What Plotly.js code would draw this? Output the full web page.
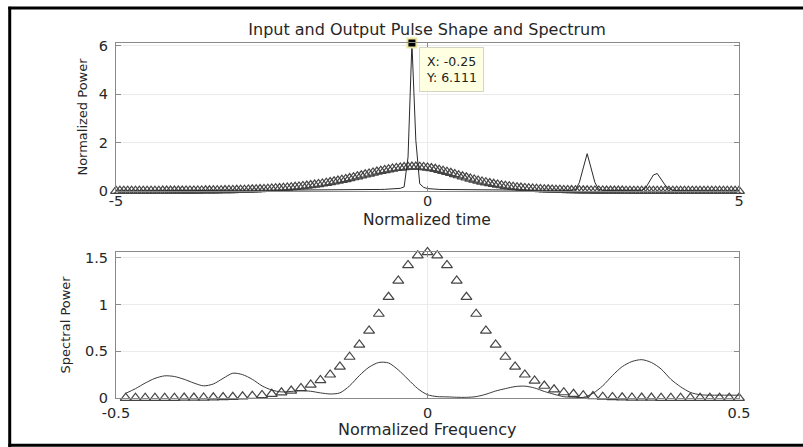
<!DOCTYPE html>
<html><head><meta charset="utf-8">
<script src="https://cdn.plot.ly/plotly-3.0.1.min.js"></script>
<style>html,body{margin:0;padding:0;background:#fff;}#chart{width:803px;height:447px;}</style>
</head><body><div id="chart"></div>
<script>
// ---- time domain ----
const timeAxis = [
-5,-4.9375,-4.875,-4.8125,-4.75,-4.6875,-4.625,-4.5625,
-4.5,-4.4375,-4.375,-4.3125,-4.25,-4.1875,-4.125,-4.0625,
-4,-3.9375,-3.875,-3.8125,-3.75,-3.6875,-3.625,-3.5625,
-3.5,-3.4375,-3.375,-3.3125,-3.25,-3.1875,-3.125,-3.0625,
-3,-2.9375,-2.875,-2.8125,-2.75,-2.6875,-2.625,-2.5625,
-2.5,-2.4375,-2.375,-2.3125,-2.25,-2.1875,-2.125,-2.0625,
-2,-1.9375,-1.875,-1.8125,-1.75,-1.6875,-1.625,-1.5625,
-1.5,-1.4375,-1.375,-1.3125,-1.25,-1.1875,-1.125,-1.0625,
-1,-0.9375,-0.875,-0.8125,-0.75,-0.6875,-0.625,-0.5625,
-0.5,-0.4375,-0.375,-0.3125,-0.25,-0.1875,-0.125,-0.0625,
0,0.0625,0.125,0.1875,0.25,0.3125,0.375,0.4375,
0.5,0.5625,0.625,0.6875,0.75,0.8125,0.875,0.9375,
1,1.0625,1.125,1.1875,1.25,1.3125,1.375,1.4375,
1.5,1.5625,1.625,1.6875,1.75,1.8125,1.875,1.9375,
2,2.0625,2.125,2.1875,2.25,2.3125,2.375,2.4375,
2.5,2.5625,2.625,2.6875,2.75,2.8125,2.875,2.9375,
3,3.0625,3.125,3.1875,3.25,3.3125,3.375,3.4375,
3.5,3.5625,3.625,3.6875,3.75,3.8125,3.875,3.9375,
4,4.0625,4.125,4.1875,4.25,4.3125,4.375,4.4375,
4.5,4.5625,4.625,4.6875,4.75,4.8125,4.875,4.9375,
5];
const inputPulse = [
0.002,0.002,0.002,0.002,0.003,0.003,0.003,0.004,
0.004,0.004,0.005,0.005,0.006,0.006,0.007,0.008,
0.009,0.010,0.011,0.012,0.013,0.014,0.016,0.018,
0.020,0.022,0.024,0.026,0.029,0.032,0.035,0.039,
0.043,0.047,0.052,0.058,0.063,0.070,0.077,0.085,
0.093,0.103,0.113,0.124,0.136,0.150,0.164,0.180,
0.197,0.216,0.236,0.257,0.280,0.305,0.332,0.360,
0.390,0.421,0.454,0.489,0.525,0.562,0.600,0.638,
0.677,0.715,0.754,0.791,0.826,0.860,0.891,0.919,
0.944,0.964,0.980,0.992,0.998,1.000,0.995,0.982,
0.963,0.937,0.905,0.869,0.828,0.785,0.739,0.692,
0.645,0.598,0.553,0.508,0.465,0.425,0.386,0.351,
0.317,0.286,0.258,0.232,0.208,0.186,0.167,0.149,
0.133,0.119,0.106,0.094,0.084,0.074,0.066,0.059,
0.052,0.046,0.041,0.036,0.032,0.029,0.025,0.022,
0.020,0.018,0.016,0.014,0.012,0.011,0.010,0.009,
0.008,0.007,0.006,0.005,0.005,0.004,0.004,0.003,
0.003,0.003,0.002,0.002,0.002,0.002,0.001,0.001,
0.001,0.001,0.001,0.001,0.001,0.001,0.001,0,
0,0,0,0,0,0,0,0,
0];
const outputPulse = [
0.004,0.004,0.004,0.004,0.004,0.004,0.004,0.004,
0.004,0.004,0.004,0.004,0.004,0.004,0.004,0.004,
0.006,0.006,0.007,0.007,0.008,0.008,0.009,0.010,
0.011,0.012,0.013,0.014,0.015,0.016,0.018,0.020,
0.022,0.024,0.026,0.028,0.030,0.031,0.032,0.033,
0.034,0.035,0.036,0.036,0.037,0.037,0.038,0.038,
0.039,0.039,0.040,0.040,0.041,0.041,0.042,0.042,
0.043,0.043,0.044,0.045,0.046,0.047,0.048,0.050,
0.052,0.054,0.057,0.060,0.064,0.068,0.073,0.080,
0.090,0.110,0.170,1.400,6.111,2.100,0.300,0.150,
0.100,0.080,0.070,0.065,0.062,0.060,0.058,0.056,
0.054,0.052,0.050,0.049,0.048,0.047,0.046,0.045,
0.044,0.043,0.042,0.041,0.040,0.039,0.038,0.037,
0.036,0.035,0.034,0.033,0.032,0.031,0.030,0.029,
0.028,0.027,0.026,0.025,0.024,0.023,0.050,0.350,
0.950,1.540,0.950,0.350,0.060,0.025,0.022,0.021,
0.020,0.019,0.018,0.017,0.016,0.016,0.015,0.030,
0.120,0.380,0.660,0.720,0.500,0.250,0.100,0.035,
0.015,0.012,0.011,0.010,0.010,0.009,0.009,0.008,
0.008,0.007,0.007,0.006,0.006,0.005,0.005,0.005,
0.004];
const peakTipX = [-0.25];
const peakTipY = [6.111];
const peakTipText = 'X: -0.25<br>Y: 6.111';

// ---- frequency domain ----
const freqAxis = [
-0.484375,-0.46875,-0.453125,-0.4375,-0.421875,-0.40625,-0.390625,-0.375,
-0.359375,-0.34375,-0.328125,-0.3125,-0.296875,-0.28125,-0.265625,-0.25,
-0.234375,-0.21875,-0.203125,-0.1875,-0.171875,-0.15625,-0.140625,-0.125,
-0.109375,-0.09375,-0.078125,-0.0625,-0.046875,-0.03125,-0.015625,0,
0.015625,0.03125,0.046875,0.0625,0.078125,0.09375,0.109375,0.125,
0.140625,0.15625,0.171875,0.1875,0.203125,0.21875,0.234375,0.25,
0.265625,0.28125,0.296875,0.3125,0.328125,0.34375,0.359375,0.375,
0.390625,0.40625,0.421875,0.4375,0.453125,0.46875,0.484375,0.5];
const inputSpectrum = [
0,0,0,0.001,0.001,0.001,0.002,0.002,
0.003,0.005,0.007,0.010,0.015,0.021,0.030,0.042,
0.058,0.077,0.105,0.142,0.190,0.250,0.335,0.440,
0.570,0.720,0.900,1.080,1.255,1.420,1.525,1.560,
1.525,1.420,1.255,1.080,0.900,0.720,0.570,0.440,
0.335,0.250,0.185,0.130,0.090,0.060,0.042,0.028,
0.018,0.012,0.008,0.005,0.003,0.002,0.002,0.001,
0.001,0.001,0,0,0,0,0,0];
const outputSpectrum = [
0.050,0.100,0.160,0.210,0.237,0.230,0.200,0.160,
0.130,0.150,0.210,0.265,0.250,0.200,0.130,0.085,
0.065,0.070,0.078,0.072,0.055,0.043,0.055,0.130,
0.240,0.330,0.380,0.375,0.300,0.200,0.100,0.035,
0.015,0.012,0.008,0.007,0.015,0.040,0.075,0.100,
0.122,0.127,0.107,0.070,0.040,0.014,0.008,0.007,
0.050,0.130,0.240,0.335,0.390,0.410,0.380,0.310,
0.200,0.120,0.060,0.035,0.030,0.030,0.030,0.030];

// ---- ticks ----
const timeTicks = [-5, 0, 5];
const timeTickText = ['-5', '0', '5'];
const powerTicks = [0, 2, 4, 6];
const powerTickText = ['0', '2', '4', '6'];
const freqTicks = [-0.5, 0, 0.5];
const freqTickText = ['-0.5', '0', '0.5'];
const specTicks = [0, 0.5, 1, 1.5];
const specTickText = ['0', '0.5', '1', '1.5'];

const FONT = 'DejaVu Sans, Arial, sans-serif';
const TXT = '#262626';
const AXC = '#8a8a8a';
const GRID = '#ebebeb';

function axisBase(extra) {
  return Object.assign({
    showline: true, linecolor: AXC, linewidth: 1, mirror: 'ticks',
    ticks: 'inside', ticklen: 5, tickcolor: AXC, tickwidth: 1,
    showgrid: true, gridcolor: GRID, gridwidth: 1, zeroline: false,
    tickfont: {family: FONT, size: 14.5, color: TXT},
    fixedrange: true
  }, extra);
}

const markerStyle = {symbol: 'triangle-up-open', size: 9.5, color: '#454545', line: {width: 1.2, color: '#454545'}};

const traces = [
  {x: timeAxis, y: inputPulse, xaxis: 'x', yaxis: 'y', type: 'scatter', mode: 'markers',
   marker: markerStyle, cliponaxis: false, name: 'Input pulse', showlegend: false},
  {x: timeAxis, y: outputPulse, xaxis: 'x', yaxis: 'y', type: 'scatter', mode: 'lines',
   line: {color: '#2a2a2a', width: 1}, name: 'Output pulse', showlegend: false},
  {x: peakTipX, y: peakTipY, xaxis: 'x', yaxis: 'y', type: 'scatter', mode: 'markers',
   marker: {symbol: 'square', size: 9, color: '#000', line: {color: '#ece6a0', width: 2}},
   cliponaxis: false, showlegend: false, name: 'Data tip'},
  {x: freqAxis, y: inputSpectrum, xaxis: 'x2', yaxis: 'y2', type: 'scatter', mode: 'markers',
   marker: markerStyle, cliponaxis: false, name: 'Input spectrum', showlegend: false},
  {x: freqAxis, y: outputSpectrum, xaxis: 'x2', yaxis: 'y2', type: 'scatter', mode: 'lines',
   line: {color: '#3a3a3a', width: 1, shape: 'spline', smoothing: 0.8}, name: 'Output spectrum', showlegend: false}
];

const layout = {
  width: 803, height: 447,
  margin: {l: 0, r: 0, t: 0, b: 0},
  paper_bgcolor: '#fff', plot_bgcolor: '#fff',
  showlegend: false,
  font: {family: FONT, color: TXT},
  title: {text: 'Input and Output Pulse Shape and Spectrum', x: 0.5318, xanchor: 'center',
          y: 0.9351, yanchor: 'middle', xref: 'paper', yref: 'paper',
          font: {family: FONT, size: 16, color: TXT}},
  xaxis: axisBase({domain: [0.14446, 0.9203], anchor: 'y', range: [-5, 5],
    tickvals: timeTicks, ticktext: timeTickText, ticklabelstandoff: -3}),
  yaxis: axisBase({domain: [0.57271, 0.9038], anchor: 'x', range: [0, 6.111],
    tickvals: powerTicks, ticktext: powerTickText, ticklabelstandoff: 4,
    title: {text: 'Normalized Power', font: {family: FONT, size: 13, color: TXT}, standoff: 8}}),
  xaxis2: axisBase({domain: [0.14446, 0.9203], anchor: 'y2', range: [-0.5, 0.5],
    tickvals: freqTicks, ticktext: freqTickText, ticklabelstandoff: 2}),
  yaxis2: axisBase({domain: [0.10962, 0.43691], anchor: 'x2', range: [0, 1.565],
    tickvals: specTicks, ticktext: specTickText, ticklabelstandoff: 4,
    title: {text: 'Spectral Power', font: {family: FONT, size: 13, color: TXT}, standoff: 11}}),
  annotations: [
    {xref: 'paper', yref: 'paper', x: 427 / 803, y: 1 - 219.5 / 447, text: 'Normalized time',
     showarrow: false, xanchor: 'center', yanchor: 'middle',
     font: {family: FONT, size: 15.5, color: TXT}},
    {xref: 'paper', yref: 'paper', x: 427 / 803, y: 1 - 429 / 447, text: 'Normalized Frequency',
     showarrow: false, xanchor: 'center', yanchor: 'middle',
     font: {family: FONT, size: 16, color: TXT}},
    {x: peakTipX[0], y: peakTipY[0], xref: 'x', yref: 'y', text: peakTipText, showarrow: false,
     xanchor: 'left', yanchor: 'top', xshift: 7, yshift: -4, align: 'left',
     bgcolor: '#ffffe1', bordercolor: '#d4d4c4', borderwidth: 1, borderpad: 6,
     font: {family: FONT, size: 12.5, color: '#222'}}
  ],
  shapes: [
    {type: 'line', xref: 'paper', yref: 'paper', x0: 0.0121, x1: 0.0121, y0: 0, y1: 0.985, line: {color: '#000', width: 3}},
    {type: 'line', xref: 'paper', yref: 'paper', x0: 0.0104, x1: 1, y0: 0.9821, y1: 0.9821, line: {color: '#000', width: 3}},
    {type: 'line', xref: 'paper', yref: 'paper', x0: 0.0104, x1: 1, y0: 0.0038, y1: 0.0038, line: {color: '#000', width: 3}}
  ]
};

Plotly.newPlot('chart', traces, layout, {displayModeBar: false, staticPlot: true});
</script>
</body></html>
